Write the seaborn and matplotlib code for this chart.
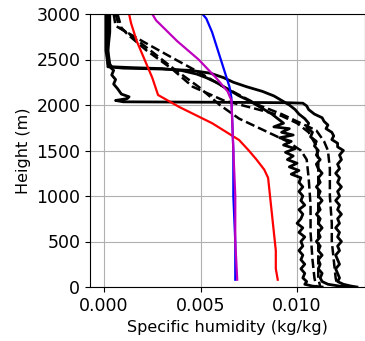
import numpy as np
import pandas as pd
import matplotlib
matplotlib.use("Agg")
import matplotlib.pyplot as plt
import seaborn as sns

# observed profiles (solid) - height (m), specific humidity (kg/kg)
obs1_z = [3000, 2800, 2600, 2450, 2420, 2380, 2330, 2280, 2230, 2180, 2120, 2090, 2070, 2050, 2035,
          2030, 2025, 2020, 1990, 1950, 1900, 1860, 1820, 1780, 1740, 1700, 1660, 1620, 1580, 1540,
          1500, 1450, 1400, 1350, 1300, 1250, 1200, 1150, 1100, 1050, 1000, 950, 900, 850, 800,
          750, 700, 650, 600, 550, 500, 450, 400, 350, 300, 250, 200, 150, 100, 60, 30, 10, 0]
obs1_q = [0.0001, 0.0001, 0.0001, 0.0002, 0.0003, 0.0005, 0.0004, 0.0006, 0.0005, 0.0007, 0.0009,
          0.0013, 0.0012, 0.0006, 0.0010, 0.0060, 0.0095, 0.0103, 0.0105, 0.0106, 0.0109, 0.0113,
          0.0114, 0.0116, 0.0115, 0.0118, 0.0119, 0.0118, 0.0121, 0.0121,
          0.0124, 0.0122, 0.0123, 0.0121, 0.0122, 0.0120, 0.0122, 0.0121, 0.0123, 0.0121, 0.0122,
          0.0120, 0.0122, 0.0121, 0.0123, 0.0121, 0.0122, 0.0120, 0.0122, 0.0121, 0.0123, 0.0121,
          0.0122, 0.0120, 0.0121, 0.0122, 0.0120, 0.0121, 0.0122, 0.0121, 0.0124, 0.0128, 0.0131]

obs2_z = [3000, 2800, 2600, 2420, 2405, 2395, 2380, 2350, 2300, 2250, 2200, 2150, 2100, 2050, 2000,
          1950, 1900, 1850, 1800, 1750, 1700, 1650, 1600, 1550, 1500, 1450, 1400, 1350,
          1300, 1250, 1200, 1150, 1100, 1050, 1000, 950, 900, 850, 800, 750, 700, 650, 600, 550,
          500, 450, 400, 350, 300, 250, 200, 150, 100, 60, 30, 10, 0]
obs2_q = [0.0002, 0.0002, 0.0002, 0.0002, 0.0010, 0.0030, 0.0045, 0.0055, 0.0062, 0.0067, 0.0074,
          0.0082, 0.0088, 0.0092, 0.0096, 0.0099, 0.0101, 0.0104, 0.0106, 0.0105, 0.0108, 0.0107,
          0.0110, 0.0109, 0.0111, 0.0110, 0.0112, 0.0110,
          0.0111, 0.0113, 0.0111, 0.0112, 0.0110, 0.0112, 0.0111, 0.0113, 0.0111, 0.0112, 0.0110,
          0.0112, 0.0111, 0.0113, 0.0111, 0.0112, 0.0110, 0.0112, 0.0111, 0.0113, 0.0111, 0.0112,
          0.0111, 0.0113, 0.0112, 0.0113, 0.0116, 0.0122, 0.0127]

obs3_z = [3000, 2800, 2600, 2450, 2420, 2410, 2400, 2380, 2340, 2300, 2250, 2200, 2150, 2100, 2050,
          2000, 1950, 1900, 1850, 1800, 1760, 1740, 1700, 1670, 1640, 1600, 1560, 1520, 1480, 1440,
          1400, 1360, 1320, 1280, 1240, 1200, 1150,
          1100, 1050, 1000, 950, 900, 850, 800, 750, 700, 650, 600, 550, 500, 450, 400, 350, 300,
          250, 200, 150, 100, 60, 30, 10, 0]
obs3_q = [0.0003, 0.0003, 0.0002, 0.0003, 0.0004, 0.0015, 0.0030, 0.0040, 0.0048, 0.0053, 0.0058,
          0.0062, 0.0066, 0.0070, 0.0075, 0.0079, 0.0083, 0.0087, 0.0090, 0.0093, 0.0088, 0.0096,
          0.0092, 0.0098, 0.0091, 0.0097, 0.0093, 0.0099, 0.0094, 0.0098, 0.0095, 0.0100, 0.0096,
          0.0101, 0.0097, 0.0102, 0.0101,
          0.0103, 0.0101, 0.0103, 0.0102, 0.0104, 0.0101, 0.0103, 0.0102, 0.0100, 0.0103, 0.0101,
          0.0104, 0.0102, 0.0103, 0.0101, 0.0103, 0.0102, 0.0104, 0.0102, 0.0104, 0.0103, 0.0105,
          0.0104, 0.0108, 0.0113]

# other profiles (dashed)
dash1_z = [3000, 2870, 2700, 2500, 2350, 2200, 2100, 2000, 1900, 1800, 1720, 1600, 1500, 1300,
           1000, 700, 500, 300, 100, 0]
dash1_q = [0.0005, 0.0006, 0.0020, 0.0037, 0.0050, 0.0062, 0.0071, 0.0080, 0.0092, 0.0102, 0.0110,
           0.0114, 0.0116, 0.0117, 0.0117, 0.0118, 0.0118, 0.0119, 0.0120, 0.0121]

dash2_z = [3000, 2850, 2780, 2600, 2400, 2200, 2050, 1950, 1880, 1800, 1700, 1550, 1400, 1200,
           800, 400, 100, 0]
dash2_q = [0.0007, 0.0009, 0.0012, 0.0022, 0.0035, 0.0046, 0.0062, 0.0080, 0.0092, 0.0100, 0.0106,
           0.0110, 0.0111, 0.0111, 0.0111, 0.0111, 0.0111, 0.0112]

dash3_z = [3000, 2850, 2780, 2600, 2400, 2200, 2000, 1850, 1700, 1600, 1500, 1400, 1200, 900,
           600, 300, 100, 0]
dash3_q = [0.0006, 0.0008, 0.0013, 0.0024, 0.0036, 0.0049, 0.0060, 0.0070, 0.0085, 0.0095, 0.0102,
           0.0105, 0.0106, 0.0107, 0.0107, 0.0108, 0.0109, 0.0110]

# model profiles
red_z = [3000, 2900, 2700, 2500, 2300, 2110, 1978, 1800, 1615, 1500, 1400, 1290, 1200, 1000, 800,
         600, 400, 200, 80]
red_q = [0.0013, 0.0014, 0.0017, 0.0021, 0.0025, 0.0028, 0.0039, 0.0056, 0.0070, 0.0075, 0.0079,
         0.0083, 0.0085, 0.0086, 0.0087, 0.0088, 0.0089, 0.0089, 0.0090]

blue_z = [3000, 2950, 2800, 2600, 2400, 2200, 2080, 1500, 1000, 500, 80]
blue_q = [0.0051, 0.0053, 0.0056, 0.0059, 0.0062, 0.0065, 0.0066, 0.0067, 0.0067, 0.0068, 0.0068]

mag_z = [3000, 2930, 2700, 2500, 2300, 2150, 2050, 1500, 1000, 500, 80]
mag_q = [0.0025, 0.0027, 0.0038, 0.0049, 0.0058, 0.0064, 0.0066, 0.0067, 0.0068, 0.0068, 0.0069]

fig = plt.figure(figsize=(3.65, 3.41), dpi=100)
ax = fig.add_axes([90 / 365, 54 / 341, 275 / 365, 273 / 341])

kw = dict(sort=False, estimator=None, ax=ax)
for z, q in [(obs1_z, obs1_q), (obs2_z, obs2_q), (obs3_z, obs3_q)]:
    sns.lineplot(x=q, y=z, color='k', lw=2, **kw)
for z, q in [(dash1_z, dash1_q), (dash2_z, dash2_q), (dash3_z, dash3_q)]:
    sns.lineplot(x=q, y=z, color='k', lw=1.8, linestyle='--', **kw)
sns.lineplot(x=red_q, y=red_z, color='r', lw=1.6, **kw)
sns.lineplot(x=blue_q, y=blue_z, color='b', lw=1.6, **kw)
sns.lineplot(x=mag_q, y=mag_z, color='m', lw=1.6, **kw)

ax.set_xlim(-0.000725, 0.01352)
ax.set_ylim(0, 3000)
ax.set_xticks([0.0, 0.005, 0.010])
ax.set_yticks([0, 500, 1000, 1500, 2000, 2500, 3000])
ax.tick_params(labelsize=12.5)
ax.set_xlabel('Specific humidity (kg/kg)', fontsize=11.5)
ax.set_ylabel('Height (m)', fontsize=11.5)
ax.grid(True, color='#b0b0b0', lw=0.8)
ax.set_axisbelow(True)

fig.savefig('out.png', dpi=100)
